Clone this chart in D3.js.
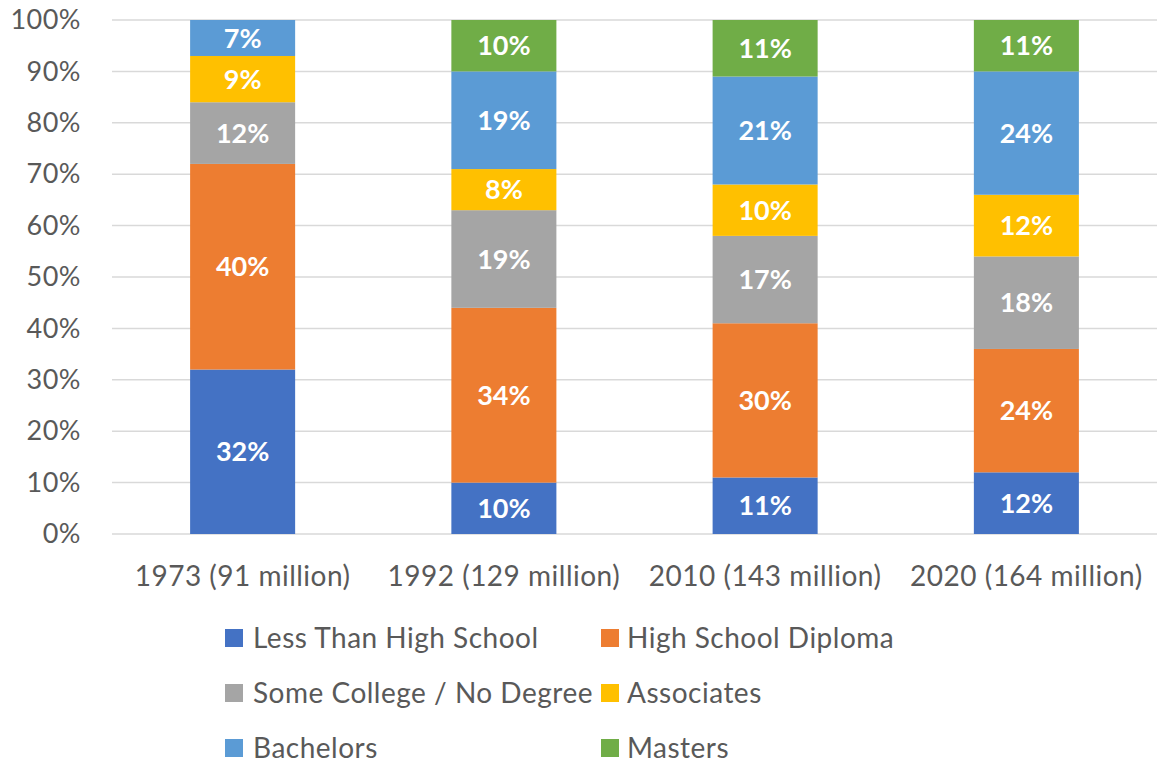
<!DOCTYPE html>
<html>
<head>
<meta charset="utf-8">
<script src="https://cdn.jsdelivr.net/npm/d3@7"></script>
<style>
  body { margin: 0; background: #fff; }
  svg { display: block; font-family: Lato, "Open Sans", sans-serif; }
</style>
</head>
<body>
<svg id="chart" width="1162" height="759"></svg>
<script>
const categories = ['1973 (91 million)', '1992 (129 million)', '2010 (143 million)', '2020 (164 million)'];
const seriesNames = ['Less Than High School', 'High School Diploma', 'Some College / No Degree', 'Associates', 'Bachelors', 'Masters'];
const lessThanHS  = [32, 10, 11, 12];
const hsDiploma   = [40, 34, 30, 24];
const someCollege = [12, 19, 17, 18];
const associates  = [9, 8, 10, 12];
const bachelors   = [7, 19, 21, 24];
const masters     = [0, 10, 11, 11];
const yTicks = [0, 10, 20, 30, 40, 50, 60, 70, 80, 90, 100];
const colors = ['#4472C4', '#ED7D31', '#A5A5A5', '#FFC000', '#5B9BD5', '#70AD47'];

const seriesValues = [lessThanHS, hsDiploma, someCollege, associates, bachelors, masters];
const rows = categories.map((c, i) => {
  const r = {cat: c};
  seriesNames.forEach((s, j) => r[s] = seriesValues[j][i]);
  return r;
});

const svg = d3.select('#chart');
const plotLeft = 112, plotRight = 1157, plotTop = 20, plotBottom = 534;

const x = d3.scaleBand().domain(categories).range([plotLeft, plotRight]).paddingInner(0.598).paddingOuter(0.299);
const y = d3.scaleLinear().domain([0, 100]).range([plotBottom, plotTop]);

// gridlines
svg.append('g').selectAll('line').data(yTicks).enter().append('line')
  .attr('x1', plotLeft).attr('x2', plotRight)
  .attr('y1', d => y(d)).attr('y2', d => y(d))
  .attr('stroke', '#D9D9D9').attr('stroke-width', 1.5);

// y axis labels
const yAxis = d3.axisLeft(y).tickValues(yTicks).tickFormat(d => d + '%').tickSize(0).tickPadding(0);
svg.append('g').attr('transform', `translate(81,0)`).call(yAxis)
  .call(g => g.select('.domain').remove())
  .selectAll('text').attr('font-size', 27).attr('letter-spacing', 0.5)
  .attr('fill', '#595959').attr('font-family', 'Lato, sans-serif');

// clip at 100%
svg.append('clipPath').attr('id', 'plot').append('rect')
  .attr('x', plotLeft).attr('y', plotTop).attr('width', plotRight - plotLeft).attr('height', plotBottom - plotTop);

const stacked = d3.stack().keys(seriesNames)(rows);

const layers = svg.append('g').attr('clip-path', 'url(#plot)').selectAll('g').data(stacked).enter().append('g')
  .attr('fill', (d, i) => colors[i]);
layers.selectAll('rect').data(d => d).enter().append('rect')
  .attr('x', d => x(d.data.cat))
  .attr('width', x.bandwidth())
  .attr('y', d => y(d[1]))
  .attr('height', d => y(d[0]) - y(d[1]));

// data labels
const labels = svg.append('g');
stacked.forEach(layer => {
  layer.forEach(d => {
    const v = d[1] - d[0];
    if (v <= 0) return;
    const mid = (d[0] + Math.min(d[1], 100)) / 2;
    labels.append('text')
      .attr('x', x(d.data.cat) + x.bandwidth() / 2)
      .attr('y', y(mid))
      .attr('dy', '0.36em')
      .attr('text-anchor', 'middle')
      .attr('font-size', 27).attr('font-weight', 'bold').attr('fill', '#fff')
      .text(v + '%');
  });
});

// category labels
svg.append('g').selectAll('text').data(categories).enter().append('text')
  .attr('x', d => x(d) + x.bandwidth() / 2)
  .attr('y', 576).attr('dy', '0.36em')
  .attr('text-anchor', 'middle')
  .attr('font-size', 28).attr('letter-spacing', 0.5).attr('fill', '#595959')
  .text(d => d);

// legend
const legend = svg.append('g');
const item = legend.selectAll('g').data(seriesNames).enter().append('g')
  .attr('transform', (d, i) => `translate(${i % 2 ? 601 : 225}, ${638 + Math.floor(i / 2) * 55})`);
item.append('rect').attr('x', 0).attr('y', -9).attr('width', 18).attr('height', 18)
  .attr('fill', (d, i) => colors[i]);
item.append('text').attr('x', (d, i) => i % 2 ? 26 : 28).attr('dy', '0.36em')
  .attr('font-size', 28).attr('letter-spacing', 0.5).attr('fill', '#595959')
  .text(d => d);
</script>
</body>
</html>
